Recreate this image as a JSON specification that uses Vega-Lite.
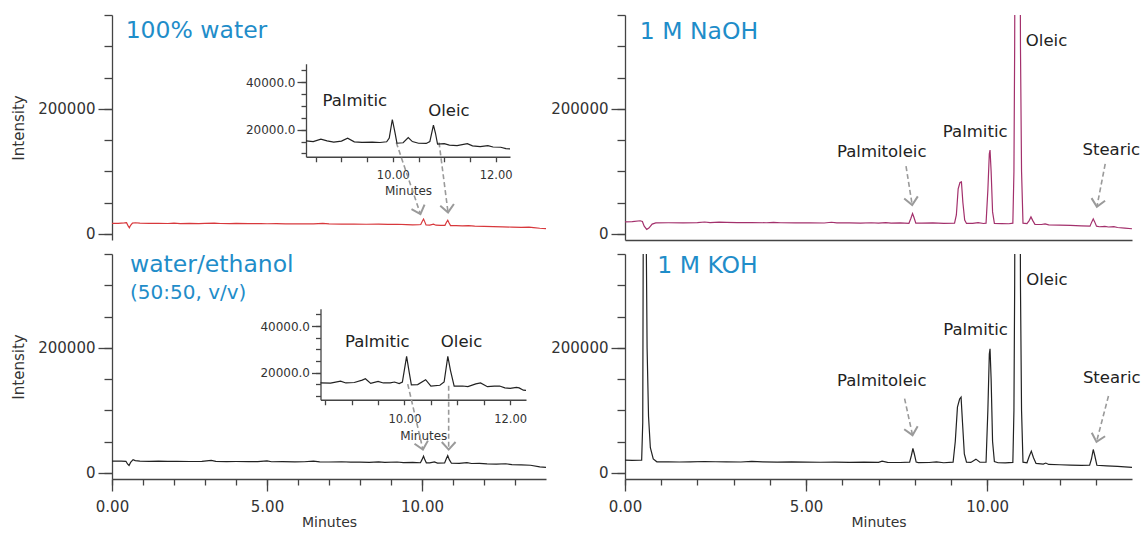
{
 "$schema": "https://vega.github.io/schema/vega-lite/v6.json",
 "background": "white",
 "padding": {"left": 11, "top": 14, "right": 0, "bottom": 0},
 "config": {
  "view": {"stroke": null},
  "font": "DejaVu Sans",
  "axis": {"grid": false, "labelFont": "DejaVu Sans", "titleFont": "DejaVu Sans", "labelColor": "#333333", "titleColor": "#333333", "tickColor": "#444444", "domainColor": "#444444", "tickWidth": 1.3, "domainWidth": 1.3, "labelFontSize": 15, "titleFontSize": 15, "titleFontWeight": "normal", "labelFlush": false, "labelOverlap": false},
  "text": {"font": "DejaVu Sans"}
 },
 "datasets": {
  "water": [
   {"t":0,"v":16500},{"t":0.2,"v":16700},{"t":0.4,"v":17300},{"t":0.47,"v":17800},{"t":0.52,"v":12500},{"t":0.56,"v":9500},{"t":0.6,"v":13500},{"t":0.66,"v":17000},{"t":0.75,"v":17600},{"t":0.9,"v":16900},{"t":1.2,"v":16500},{"t":1.5,"v":16800},{"t":1.8,"v":16400},{"t":2.0,"v":16900},{"t":2.2,"v":16300},{"t":2.5,"v":16600},{"t":2.8,"v":16300},{"t":3.0,"v":16500},{"t":3.3,"v":17100},{"t":3.5,"v":16400},{"t":3.8,"v":16300},{"t":4.0,"v":16500},{"t":4.4,"v":16100},{"t":4.8,"v":16300},{"t":5.0,"v":16000},{"t":5.3,"v":16200},{"t":5.6,"v":15800},{"t":5.9,"v":16000},{"t":6.2,"v":15700},{"t":6.5,"v":15900},{"t":6.8,"v":16500},{"t":7.0,"v":15700},{"t":7.4,"v":15500},{"t":7.8,"v":15600},{"t":8.2,"v":15200},{"t":8.6,"v":15400},{"t":8.9,"v":14900},{"t":9.2,"v":15200},{"t":9.5,"v":14600},{"t":9.7,"v":14300},{"t":9.9,"v":14400},{"t":9.96,"v":14800},{"t":10.01,"v":20000},{"t":10.05,"v":23500},{"t":10.09,"v":19000},{"t":10.13,"v":14000},{"t":10.25,"v":13800},{"t":10.37,"v":15400},{"t":10.45,"v":13700},{"t":10.6,"v":13400},{"t":10.74,"v":13500},{"t":10.79,"v":18500},{"t":10.83,"v":21500},{"t":10.87,"v":17500},{"t":10.92,"v":13100},{"t":11.1,"v":13000},{"t":11.3,"v":12600},{"t":11.5,"v":13000},{"t":11.7,"v":12100},{"t":12.0,"v":11800},{"t":12.3,"v":11500},{"t":12.6,"v":11100},{"t":12.9,"v":10600},{"t":13.2,"v":10200},{"t":13.45,"v":10700},{"t":13.6,"v":9800},{"t":13.8,"v":8800},{"t":14.0,"v":8200}
  ],
  "ethanol": [
   {"t":0,"v":18600},{"t":0.3,"v":18500},{"t":0.45,"v":18300},{"t":0.5,"v":14000},{"t":0.55,"v":11500},{"t":0.6,"v":16500},{"t":0.68,"v":21000},{"t":0.75,"v":19500},{"t":0.9,"v":18700},{"t":1.2,"v":18300},{"t":1.5,"v":18500},{"t":1.8,"v":18100},{"t":2.1,"v":18300},{"t":2.5,"v":18000},{"t":2.9,"v":18200},{"t":3.2,"v":19800},{"t":3.35,"v":18100},{"t":3.7,"v":17900},{"t":4.0,"v":18000},{"t":4.4,"v":17700},{"t":4.7,"v":17900},{"t":5.0,"v":19000},{"t":5.15,"v":17600},{"t":5.5,"v":17700},{"t":5.9,"v":17400},{"t":6.2,"v":17600},{"t":6.5,"v":18600},{"t":6.7,"v":17300},{"t":7.0,"v":17200},{"t":7.4,"v":17600},{"t":7.7,"v":17000},{"t":8.0,"v":17100},{"t":8.3,"v":16700},{"t":8.6,"v":17300},{"t":8.8,"v":16500},{"t":9.2,"v":17200},{"t":9.4,"v":16300},{"t":9.7,"v":16600},{"t":9.95,"v":16000},{"t":10.0,"v":21000},{"t":10.05,"v":26500},{"t":10.09,"v":21000},{"t":10.14,"v":15800},{"t":10.25,"v":15900},{"t":10.4,"v":17300},{"t":10.5,"v":15500},{"t":10.73,"v":15700},{"t":10.78,"v":22000},{"t":10.83,"v":27600},{"t":10.88,"v":21000},{"t":10.95,"v":15300},{"t":11.2,"v":15000},{"t":11.45,"v":16200},{"t":11.6,"v":14800},{"t":11.85,"v":14900},{"t":12.1,"v":14200},{"t":12.4,"v":13800},{"t":12.7,"v":14400},{"t":12.9,"v":13000},{"t":13.2,"v":12500},{"t":13.5,"v":12000},{"t":13.8,"v":9500},{"t":14.0,"v":8500}
  ],
  "naoh": [
   {"t":0,"v":19000},{"t":0.2,"v":19300},{"t":0.42,"v":20800},{"t":0.48,"v":19500},{"t":0.53,"v":12000},{"t":0.6,"v":7000},{"t":0.66,"v":9000},{"t":0.75,"v":15500},{"t":0.85,"v":17300},{"t":1.2,"v":17600},{"t":1.6,"v":17500},{"t":2.0,"v":17800},{"t":2.2,"v":18800},{"t":2.35,"v":17900},{"t":2.6,"v":18500},{"t":2.8,"v":18300},{"t":3.1,"v":17900},{"t":3.5,"v":17800},{"t":3.9,"v":17600},{"t":4.1,"v":18300},{"t":4.3,"v":17600},{"t":4.7,"v":17500},{"t":5.1,"v":17300},{"t":5.5,"v":17200},{"t":5.7,"v":18400},{"t":5.85,"v":17300},{"t":6.2,"v":17300},{"t":6.5,"v":17100},{"t":6.8,"v":17600},{"t":7.0,"v":17000},{"t":7.2,"v":17900},{"t":7.35,"v":16900},{"t":7.6,"v":17400},{"t":7.84,"v":16700},{"t":7.89,"v":24000},{"t":7.94,"v":32300},{"t":7.98,"v":26000},{"t":8.03,"v":17000},{"t":8.2,"v":16900},{"t":8.5,"v":17400},{"t":8.8,"v":16600},{"t":9.1,"v":16800},{"t":9.15,"v":30000},{"t":9.2,"v":72000},{"t":9.25,"v":82000},{"t":9.29,"v":83000},{"t":9.33,"v":50000},{"t":9.38,"v":22000},{"t":9.43,"v":16500},{"t":9.6,"v":16700},{"t":9.75,"v":17800},{"t":9.9,"v":16400},{"t":9.97,"v":17000},{"t":10.02,"v":70000},{"t":10.06,"v":128000},{"t":10.08,"v":134000},{"t":10.11,"v":100000},{"t":10.15,"v":35000},{"t":10.2,"v":16500},{"t":10.4,"v":16300},{"t":10.6,"v":16000},{"t":10.71,"v":17000},{"t":10.74,"v":100000},{"t":10.76,"v":300000},{"t":10.78,"v":700000},{"t":10.84,"v":1100000},{"t":10.9,"v":700000},{"t":10.92,"v":300000},{"t":10.95,"v":100000},{"t":10.99,"v":17000},{"t":11.1,"v":16200},{"t":11.16,"v":21000},{"t":11.21,"v":27000},{"t":11.26,"v":21000},{"t":11.32,"v":15000},{"t":11.5,"v":14800},{"t":11.6,"v":15800},{"t":11.7,"v":14300},{"t":12.0,"v":13800},{"t":12.3,"v":13300},{"t":12.6,"v":12600},{"t":12.84,"v":12200},{"t":12.89,"v":19000},{"t":12.93,"v":23900},{"t":12.97,"v":19000},{"t":13.02,"v":12200},{"t":13.1,"v":11200},{"t":13.25,"v":11800},{"t":13.35,"v":10800},{"t":13.5,"v":11300},{"t":13.6,"v":10000},{"t":13.8,"v":9000},{"t":14.0,"v":8000}
  ],
  "koh": [
   {"t":0,"v":20200},{"t":0.2,"v":19800},{"t":0.4,"v":20000},{"t":0.46,"v":20000},{"t":0.49,"v":80000},{"t":0.5,"v":300000},{"t":0.52,"v":700000},{"t":0.56,"v":900000},{"t":0.59,"v":350000},{"t":0.61,"v":200000},{"t":0.65,"v":90000},{"t":0.7,"v":40000},{"t":0.78,"v":22000},{"t":0.88,"v":17500},{"t":1.2,"v":17300},{"t":1.5,"v":17200},{"t":1.8,"v":17400},{"t":2.2,"v":18000},{"t":2.5,"v":17600},{"t":2.8,"v":17300},{"t":3.2,"v":17200},{"t":3.5,"v":18200},{"t":3.8,"v":17500},{"t":4.2,"v":17000},{"t":4.6,"v":17500},{"t":5.0,"v":16900},{"t":5.4,"v":16800},{"t":5.8,"v":17100},{"t":6.2,"v":16600},{"t":6.6,"v":16900},{"t":7.0,"v":16500},{"t":7.1,"v":18500},{"t":7.25,"v":16700},{"t":7.6,"v":16400},{"t":7.86,"v":17000},{"t":7.91,"v":28000},{"t":7.95,"v":38800},{"t":7.99,"v":30000},{"t":8.04,"v":17000},{"t":8.1,"v":16200},{"t":8.4,"v":16400},{"t":8.6,"v":17300},{"t":8.8,"v":16000},{"t":9.06,"v":17000},{"t":9.12,"v":50000},{"t":9.18,"v":105000},{"t":9.24,"v":118000},{"t":9.28,"v":121000},{"t":9.32,"v":80000},{"t":9.37,"v":30000},{"t":9.43,"v":17000},{"t":9.55,"v":16500},{"t":9.69,"v":21800},{"t":9.8,"v":16800},{"t":9.97,"v":17000},{"t":10.02,"v":100000},{"t":10.06,"v":190000},{"t":10.08,"v":198400},{"t":10.11,"v":150000},{"t":10.15,"v":50000},{"t":10.2,"v":18000},{"t":10.3,"v":16000},{"t":10.5,"v":15800},{"t":10.71,"v":16500},{"t":10.74,"v":100000},{"t":10.76,"v":300000},{"t":10.78,"v":700000},{"t":10.84,"v":1100000},{"t":10.9,"v":700000},{"t":10.92,"v":300000},{"t":10.95,"v":100000},{"t":10.99,"v":17000},{"t":11.1,"v":16000},{"t":11.16,"v":26000},{"t":11.22,"v":34600},{"t":11.28,"v":24000},{"t":11.35,"v":15000},{"t":11.55,"v":13800},{"t":11.62,"v":15500},{"t":11.7,"v":13300},{"t":12.0,"v":12800},{"t":12.3,"v":12300},{"t":12.6,"v":11800},{"t":12.83,"v":12000},{"t":12.88,"v":22000},{"t":12.93,"v":37200},{"t":12.97,"v":28000},{"t":13.03,"v":12000},{"t":13.3,"v":11000},{"t":13.6,"v":10200},{"t":13.8,"v":9500},{"t":14.0,"v":8500}
  ],
  "inset_water": [
   {"t":8.31,"v":15300},{"t":8.45,"v":15000},{"t":8.6,"v":16000},{"t":8.72,"v":15300},{"t":8.85,"v":14800},{"t":9.0,"v":15200},{"t":9.12,"v":16400},{"t":9.25,"v":14900},{"t":9.4,"v":14700},{"t":9.6,"v":14800},{"t":9.75,"v":14600},{"t":9.88,"v":14900},{"t":9.93,"v":16500},{"t":9.99,"v":24300},{"t":10.04,"v":19000},{"t":10.08,"v":14300},{"t":10.2,"v":14500},{"t":10.3,"v":16700},{"t":10.38,"v":15000},{"t":10.5,"v":14300},{"t":10.65,"v":14200},{"t":10.72,"v":15000},{"t":10.79,"v":21900},{"t":10.83,"v":18500},{"t":10.87,"v":13900},{"t":11.0,"v":14100},{"t":11.1,"v":13500},{"t":11.25,"v":13300},{"t":11.45,"v":14100},{"t":11.55,"v":13200},{"t":11.7,"v":12900},{"t":11.85,"v":13300},{"t":11.95,"v":12700},{"t":12.1,"v":12600},{"t":12.2,"v":12000},{"t":12.28,"v":11900}
  ],
  "inset_ethanol": [
   {"t":8.41,"v":15600},{"t":8.6,"v":15500},{"t":8.79,"v":16400},{"t":8.89,"v":15600},{"t":9.05,"v":15800},{"t":9.2,"v":16800},{"t":9.26,"v":17400},{"t":9.36,"v":15400},{"t":9.5,"v":16300},{"t":9.6,"v":15600},{"t":9.73,"v":15600},{"t":9.81,"v":16000},{"t":9.9,"v":15300},{"t":9.96,"v":16000},{"t":10.04,"v":27000},{"t":10.09,"v":20000},{"t":10.13,"v":14800},{"t":10.25,"v":14900},{"t":10.4,"v":17000},{"t":10.5,"v":14200},{"t":10.67,"v":14600},{"t":10.75,"v":16000},{"t":10.82,"v":27000},{"t":10.87,"v":21000},{"t":10.94,"v":14200},{"t":11.1,"v":14300},{"t":11.2,"v":14000},{"t":11.35,"v":15200},{"t":11.44,"v":15600},{"t":11.57,"v":14000},{"t":11.7,"v":14200},{"t":11.8,"v":14300},{"t":11.9,"v":13500},{"t":12.0,"v":13300},{"t":12.12,"v":13700},{"t":12.17,"v":13500},{"t":12.25,"v":12500},{"t":12.3,"v":12400}
  ],
  "arrows_tl": [{"peak":"Palmitic","t":9.17,"v":146000,"t2":9.95,"v2":31500},{"peak":"Oleic","t":10.55,"v":146000,"t2":10.84,"v2":34100}],
  "arrows_bl": [{"peak":"Palmitic","t":9.54,"v":141900,"t2":10.03,"v2":37100},{"peak":"Oleic","t":10.86,"v":139200,"t2":10.86,"v2":37100}],
  "arrows_tr": [{"peak":"Palmitoleic","t":7.76,"v":108200,"t2":7.93,"v2":46100},{"peak":"Stearic","t":13.26,"v":111800,"t2":13.03,"v2":43000}],
  "arrows_br": [{"peak":"Palmitoleic","t":7.72,"v":118700,"t2":7.94,"v2":60100},{"peak":"Stearic","t":13.35,"v":122800,"t2":13.02,"v2":49400}],
  "labels_tr": [{"label":"Palmitoleic","t":7.09,"v":122500},{"label":"Palmitic","t":9.67,"v":154300},{"label":"Oleic","t":11.64,"v":301000},{"label":"Stearic","t":13.43,"v":126200}],
  "labels_br": [{"label":"Palmitoleic","t":7.09,"v":138800},{"label":"Palmitic","t":9.68,"v":221200},{"label":"Oleic","t":11.65,"v":301000},{"label":"Stearic","t":13.44,"v":143500}],
  "inset_labels_tl": [{"label":"Palmitic","t":9.26,"v":30000},{"label":"Oleic","t":11.09,"v":25700}],
  "inset_labels_bl": [{"label":"Palmitic","t":9.485,"v":31200},{"label":"Oleic","t":11.08,"v":31200}]
 },
 "columns": 2,
 "spacing": {"row": 14, "column": 79},
 "bounds": "flush",
 "concat": [
  {
   "width": 434, "height": 225,
   "resolve": {"scale": {"x": "independent", "y": "independent"}, "axis": {"x": "independent", "y": "independent"}},
   "layer": [
    {"data": {"name": "water"}, "mark": {"type": "line", "color": "#d8383c", "strokeWidth": 1.2, "clip": true},
     "encoding": {
      "x": {"field": "t", "type": "quantitative", "scale": {"domain": [0, 14], "nice": false, "zero": false}, "axis": null},
      "y": {"field": "v", "type": "quantitative", "scale": {"domain": [-10000, 350000], "nice": false, "zero": false}, "axis": {"orient": "left", "values": [0, 200000], "format": "d", "tickSize": 14, "labelPadding": 3, "title": "Intensity", "titlePadding": 11}}}},
    {"data": {"values": [{"label": "100% water", "t": 0.44, "v": 313600}]}, "mark": {"type": "text", "align": "left", "baseline": "alphabetic", "fontSize": 23.5, "color": "#1f8dc9"},
     "encoding": {
      "x": {"field": "t", "type": "quantitative", "scale": {"domain": [0, 14], "nice": false, "zero": false}, "axis": null},
      "y": {"field": "v", "type": "quantitative", "scale": {"domain": [-10000, 350000], "nice": false, "zero": false}, "axis": {"orient": "left", "values": [0, 50000, 100000, 150000, 200000, 250000, 300000, 350000], "tickSize": 8, "labels": false, "domain": false, "title": null}},
      "text": {"field": "label"}}},
    {"data": {"name": "arrows_tl"}, "mark": {"type": "rule", "color": "#9a9a9a", "strokeWidth": 1.6, "strokeDash": [5, 3]},
     "encoding": {
      "x": {"field": "t", "type": "quantitative", "scale": {"domain": [0, 14], "nice": false, "zero": false}, "axis": null},
      "y": {"field": "v", "type": "quantitative", "scale": {"domain": [-10000, 350000], "nice": false, "zero": false}, "axis": null},
      "x2": {"field": "t2"}, "y2": {"field": "v2"}}},
    {"data": {"name": "arrows_tl"}, "transform": [{"filter": "datum.peak == 'Palmitic'"}], "mark": {"type": "point", "shape": "M-1,-1.1L0,0L1,-1.1", "filled": false, "color": "#9a9a9a", "strokeWidth": 2, "size": 190, "angle": -18.7, "opacity": 1},
     "encoding": {
      "x": {"field": "t2", "type": "quantitative", "scale": {"domain": [0, 14], "nice": false, "zero": false}, "axis": null},
      "y": {"field": "v2", "type": "quantitative", "scale": {"domain": [-10000, 350000], "nice": false, "zero": false}, "axis": null}}},
    {"data": {"name": "arrows_tl"}, "transform": [{"filter": "datum.peak == 'Oleic'"}], "mark": {"type": "point", "shape": "M-1,-1.1L0,0L1,-1.1", "filled": false, "color": "#9a9a9a", "strokeWidth": 2, "size": 190, "angle": -7.3, "opacity": 1},
     "encoding": {
      "x": {"field": "t2", "type": "quantitative", "scale": {"domain": [0, 14], "nice": false, "zero": false}, "axis": null},
      "y": {"field": "v2", "type": "quantitative", "scale": {"domain": [-10000, 350000], "nice": false, "zero": false}, "axis": null}}},
    {"data": {"name": "inset_water"}, "mark": {"type": "line", "color": "#222222", "strokeWidth": 1.2},
     "encoding": {
      "x": {"field": "t", "type": "quantitative", "scale": {"domain": [8.31, 12.28], "range": [194, 398], "nice": false, "zero": false},
            "axis": {"orient": "bottom", "offset": -83.25, "values": [8.5, 9, 9.5, 10, 10.5, 11, 11.5, 12], "labelExpr": "datum.value == 10 || datum.value == 12 ? format(datum.value, '.2f') : ''", "tickSize": 5, "labelFontSize": 11.5, "labelPadding": 8, "title": "Minutes", "titleFontSize": 12, "titlePadding": 4}},
      "y": {"field": "v", "type": "quantitative", "scale": {"domain": [8600, 47800], "range": [141.75, 48.75], "nice": false, "zero": false},
            "axis": {"orient": "left", "offset": -194, "values": [20000, 40000], "format": ".1f", "tickSize": 9, "labelFontSize": 12, "labelPadding": 2, "title": null}}}},
    {"data": {"name": "inset_labels_tl"}, "mark": {"type": "text", "align": "center", "baseline": "alphabetic", "fontSize": 16.5, "color": "#222222"},
     "encoding": {
      "x": {"field": "t", "type": "quantitative", "scale": {"domain": [8.31, 12.28], "range": [194, 398], "nice": false, "zero": false}, "axis": null},
      "y": {"field": "v", "type": "quantitative", "scale": {"domain": [8600, 47800], "range": [141.75, 48.75], "nice": false, "zero": false},
            "axis": {"orient": "left", "offset": -194, "values": [10000, 15000, 20000, 25000, 30000, 35000, 40000, 45000], "tickSize": 5, "labels": false, "domain": false, "title": null}},
      "text": {"field": "label"}}}
   ]
  },
  {
   "width": 507, "height": 225,
   "resolve": {"scale": {"x": "independent", "y": "independent"}, "axis": {"x": "independent", "y": "independent"}},
   "layer": [
    {"data": {"name": "naoh"}, "mark": {"type": "line", "color": "#a3306c", "strokeWidth": 1.2, "clip": true},
     "encoding": {
      "x": {"field": "t", "type": "quantitative", "scale": {"domain": [0, 14], "nice": false, "zero": false}, "axis": {"orient": "bottom", "ticks": false, "labels": false, "title": null}},
      "y": {"field": "v", "type": "quantitative", "scale": {"domain": [-10000, 350000], "nice": false, "zero": false}, "axis": {"orient": "left", "values": [0, 200000], "format": "d", "tickSize": 14, "labelPadding": 3, "title": null}}}},
    {"data": {"values": [{"label": "1 M NaOH", "t": 0.41, "v": 312000}]}, "mark": {"type": "text", "align": "left", "baseline": "alphabetic", "fontSize": 23.5, "color": "#1f8dc9"},
     "encoding": {
      "x": {"field": "t", "type": "quantitative", "scale": {"domain": [0, 14], "nice": false, "zero": false}, "axis": null},
      "y": {"field": "v", "type": "quantitative", "scale": {"domain": [-10000, 350000], "nice": false, "zero": false}, "axis": {"orient": "left", "values": [0, 50000, 100000, 150000, 200000, 250000, 300000, 350000], "tickSize": 8, "labels": false, "domain": false, "title": null}},
      "text": {"field": "label"}}},
    {"data": {"name": "labels_tr"}, "mark": {"type": "text", "align": "center", "baseline": "alphabetic", "fontSize": 16.5, "color": "#222222"},
     "encoding": {
      "x": {"field": "t", "type": "quantitative", "scale": {"domain": [0, 14], "nice": false, "zero": false}, "axis": null},
      "y": {"field": "v", "type": "quantitative", "scale": {"domain": [-10000, 350000], "nice": false, "zero": false}, "axis": null},
      "text": {"field": "label"}}},
    {"data": {"name": "arrows_tr"}, "mark": {"type": "rule", "color": "#9a9a9a", "strokeWidth": 1.6, "strokeDash": [5, 3]},
     "encoding": {
      "x": {"field": "t", "type": "quantitative", "scale": {"domain": [0, 14], "nice": false, "zero": false}, "axis": null},
      "y": {"field": "v", "type": "quantitative", "scale": {"domain": [-10000, 350000], "nice": false, "zero": false}, "axis": null},
      "x2": {"field": "t2"}, "y2": {"field": "v2"}}},
    {"data": {"name": "arrows_tr"}, "transform": [{"filter": "datum.peak == 'Palmitoleic'"}], "mark": {"type": "point", "shape": "M-1,-1.1L0,0L1,-1.1", "filled": false, "color": "#9a9a9a", "strokeWidth": 2, "size": 190, "angle": -9, "opacity": 1},
     "encoding": {
      "x": {"field": "t2", "type": "quantitative", "scale": {"domain": [0, 14], "nice": false, "zero": false}, "axis": null},
      "y": {"field": "v2", "type": "quantitative", "scale": {"domain": [-10000, 350000], "nice": false, "zero": false}, "axis": null}}},
    {"data": {"name": "arrows_tr"}, "transform": [{"filter": "datum.peak == 'Stearic'"}], "mark": {"type": "point", "shape": "M-1,-1.1L0,0L1,-1.1", "filled": false, "color": "#9a9a9a", "strokeWidth": 2, "size": 190, "angle": 10.9, "opacity": 1},
     "encoding": {
      "x": {"field": "t2", "type": "quantitative", "scale": {"domain": [0, 14], "nice": false, "zero": false}, "axis": null},
      "y": {"field": "v2", "type": "quantitative", "scale": {"domain": [-10000, 350000], "nice": false, "zero": false}, "axis": null}}}
   ]
  },
  {
   "width": 434, "height": 225,
   "resolve": {"scale": {"x": "independent", "y": "independent"}, "axis": {"x": "independent", "y": "independent"}},
   "layer": [
    {"data": {"name": "ethanol"}, "mark": {"type": "line", "color": "#222222", "strokeWidth": 1.2, "clip": true},
     "encoding": {
      "x": {"field": "t", "type": "quantitative", "scale": {"domain": [0, 14], "nice": false, "zero": false}, "axis": {"orient": "bottom", "values": [0, 5, 10], "format": ".2f", "tickSize": 12, "labelPadding": 8, "title": "Minutes", "titleFontSize": 14, "titlePadding": 1}},
      "y": {"field": "v", "type": "quantitative", "scale": {"domain": [-10000, 350000], "nice": false, "zero": false}, "axis": {"orient": "left", "values": [0, 200000], "format": "d", "tickSize": 14, "labelPadding": 3, "title": "Intensity", "titlePadding": 11}}}},
    {"data": {"values": [{"label": "water/ethanol", "t": 0.58, "v": 320500}]}, "mark": {"type": "text", "align": "left", "baseline": "alphabetic", "fontSize": 23.5, "color": "#1f8dc9"},
     "encoding": {
      "x": {"field": "t", "type": "quantitative", "scale": {"domain": [0, 14], "nice": false, "zero": false}, "axis": {"orient": "bottom", "values": [0, 1, 2, 3, 4, 5, 6, 7, 8, 9, 10, 11, 12, 13], "tickSize": 6, "labels": false, "domain": false, "title": null}},
      "y": {"field": "v", "type": "quantitative", "scale": {"domain": [-10000, 350000], "nice": false, "zero": false}, "axis": {"orient": "left", "values": [0, 50000, 100000, 150000, 200000, 250000, 300000, 350000], "tickSize": 8, "labels": false, "domain": false, "title": null}},
      "text": {"field": "label"}}},
    {"data": {"values": [{"label": "(50:50, v/v)", "t": 0.58, "v": 278400}]}, "mark": {"type": "text", "align": "left", "baseline": "alphabetic", "fontSize": 20, "color": "#1f8dc9"},
     "encoding": {
      "x": {"field": "t", "type": "quantitative", "scale": {"domain": [0, 14], "nice": false, "zero": false}, "axis": null},
      "y": {"field": "v", "type": "quantitative", "scale": {"domain": [-10000, 350000], "nice": false, "zero": false}, "axis": null},
      "text": {"field": "label"}}},
    {"data": {"name": "arrows_bl"}, "mark": {"type": "rule", "color": "#9a9a9a", "strokeWidth": 1.6, "strokeDash": [5, 3]},
     "encoding": {
      "x": {"field": "t", "type": "quantitative", "scale": {"domain": [0, 14], "nice": false, "zero": false}, "axis": null},
      "y": {"field": "v", "type": "quantitative", "scale": {"domain": [-10000, 350000], "nice": false, "zero": false}, "axis": null},
      "x2": {"field": "t2"}, "y2": {"field": "v2"}}},
    {"data": {"name": "arrows_bl"}, "transform": [{"filter": "datum.peak == 'Palmitic'"}], "mark": {"type": "point", "shape": "M-1,-1.1L0,0L1,-1.1", "filled": false, "color": "#9a9a9a", "strokeWidth": 2, "size": 190, "angle": -13, "opacity": 1},
     "encoding": {
      "x": {"field": "t2", "type": "quantitative", "scale": {"domain": [0, 14], "nice": false, "zero": false}, "axis": null},
      "y": {"field": "v2", "type": "quantitative", "scale": {"domain": [-10000, 350000], "nice": false, "zero": false}, "axis": null}}},
    {"data": {"name": "arrows_bl"}, "transform": [{"filter": "datum.peak == 'Oleic'"}], "mark": {"type": "point", "shape": "M-1,-1.1L0,0L1,-1.1", "filled": false, "color": "#9a9a9a", "strokeWidth": 2, "size": 190, "angle": 0, "opacity": 1},
     "encoding": {
      "x": {"field": "t2", "type": "quantitative", "scale": {"domain": [0, 14], "nice": false, "zero": false}, "axis": null},
      "y": {"field": "v2", "type": "quantitative", "scale": {"domain": [-10000, 350000], "nice": false, "zero": false}, "axis": null}}},
    {"data": {"name": "inset_ethanol"}, "mark": {"type": "line", "color": "#222222", "strokeWidth": 1.2},
     "encoding": {
      "x": {"field": "t", "type": "quantitative", "scale": {"domain": [8.41, 12.3], "range": [208.5, 414], "nice": false, "zero": false},
            "axis": {"orient": "bottom", "offset": -79.25, "values": [8.5, 9, 9.5, 10, 10.5, 11, 11.5, 12], "labelExpr": "datum.value == 10 || datum.value == 12 ? format(datum.value, '.2f') : ''", "tickSize": 5, "labelFontSize": 11.5, "labelPadding": 9, "title": "Minutes", "titleFontSize": 12, "titlePadding": 5}},
      "y": {"field": "v", "type": "quantitative", "scale": {"domain": [8400, 47400], "range": [145.75, 54.75], "nice": false, "zero": false},
            "axis": {"orient": "left", "offset": -208.5, "values": [20000, 40000], "format": ".1f", "tickSize": 9, "labelFontSize": 12, "labelPadding": 2, "title": null}}}},
    {"data": {"name": "inset_labels_bl"}, "mark": {"type": "text", "align": "center", "baseline": "alphabetic", "fontSize": 16.5, "color": "#222222"},
     "encoding": {
      "x": {"field": "t", "type": "quantitative", "scale": {"domain": [8.41, 12.3], "range": [208.5, 414], "nice": false, "zero": false}, "axis": null},
      "y": {"field": "v", "type": "quantitative", "scale": {"domain": [8400, 47400], "range": [145.75, 54.75], "nice": false, "zero": false},
            "axis": {"orient": "left", "offset": -208.5, "values": [10000, 15000, 20000, 25000, 30000, 35000, 40000, 45000], "tickSize": 5, "labels": false, "domain": false, "title": null}},
      "text": {"field": "label"}}}
   ]
  },
  {
   "width": 507, "height": 225,
   "resolve": {"scale": {"x": "independent", "y": "independent"}, "axis": {"x": "independent", "y": "independent"}},
   "layer": [
    {"data": {"name": "koh"}, "mark": {"type": "line", "color": "#222222", "strokeWidth": 1.2, "clip": true},
     "encoding": {
      "x": {"field": "t", "type": "quantitative", "scale": {"domain": [0, 14], "nice": false, "zero": false}, "axis": {"orient": "bottom", "values": [0, 5, 10], "format": ".2f", "tickSize": 12, "labelPadding": 8, "title": "Minutes", "titleFontSize": 14, "titlePadding": 1}},
      "y": {"field": "v", "type": "quantitative", "scale": {"domain": [-10000, 350000], "nice": false, "zero": false}, "axis": {"orient": "left", "values": [0, 200000], "format": "d", "tickSize": 14, "labelPadding": 3, "title": null}}}},
    {"data": {"values": [{"label": "1 M KOH", "t": 0.89, "v": 319000}]}, "mark": {"type": "text", "align": "left", "baseline": "alphabetic", "fontSize": 23.5, "color": "#1f8dc9"},
     "encoding": {
      "x": {"field": "t", "type": "quantitative", "scale": {"domain": [0, 14], "nice": false, "zero": false}, "axis": {"orient": "bottom", "values": [0, 1, 2, 3, 4, 5, 6, 7, 8, 9, 10, 11, 12, 13], "tickSize": 6, "labels": false, "domain": false, "title": null}},
      "y": {"field": "v", "type": "quantitative", "scale": {"domain": [-10000, 350000], "nice": false, "zero": false}, "axis": {"orient": "left", "values": [0, 50000, 100000, 150000, 200000, 250000, 300000, 350000], "tickSize": 8, "labels": false, "domain": false, "title": null}},
      "text": {"field": "label"}}},
    {"data": {"name": "labels_br"}, "mark": {"type": "text", "align": "center", "baseline": "alphabetic", "fontSize": 16.5, "color": "#222222"},
     "encoding": {
      "x": {"field": "t", "type": "quantitative", "scale": {"domain": [0, 14], "nice": false, "zero": false}, "axis": null},
      "y": {"field": "v", "type": "quantitative", "scale": {"domain": [-10000, 350000], "nice": false, "zero": false}, "axis": null},
      "text": {"field": "label"}}},
    {"data": {"name": "arrows_br"}, "mark": {"type": "rule", "color": "#9a9a9a", "strokeWidth": 1.6, "strokeDash": [5, 3]},
     "encoding": {
      "x": {"field": "t", "type": "quantitative", "scale": {"domain": [0, 14], "nice": false, "zero": false}, "axis": null},
      "y": {"field": "v", "type": "quantitative", "scale": {"domain": [-10000, 350000], "nice": false, "zero": false}, "axis": null},
      "x2": {"field": "t2"}, "y2": {"field": "v2"}}},
    {"data": {"name": "arrows_br"}, "transform": [{"filter": "datum.peak == 'Palmitoleic'"}], "mark": {"type": "point", "shape": "M-1,-1.1L0,0L1,-1.1", "filled": false, "color": "#9a9a9a", "strokeWidth": 2, "size": 190, "angle": -12.3, "opacity": 1},
     "encoding": {
      "x": {"field": "t2", "type": "quantitative", "scale": {"domain": [0, 14], "nice": false, "zero": false}, "axis": null},
      "y": {"field": "v2", "type": "quantitative", "scale": {"domain": [-10000, 350000], "nice": false, "zero": false}, "axis": null}}},
    {"data": {"name": "arrows_br"}, "transform": [{"filter": "datum.peak == 'Stearic'"}], "mark": {"type": "point", "shape": "M-1,-1.1L0,0L1,-1.1", "filled": false, "color": "#9a9a9a", "strokeWidth": 2, "size": 190, "angle": 14.6, "opacity": 1},
     "encoding": {
      "x": {"field": "t2", "type": "quantitative", "scale": {"domain": [0, 14], "nice": false, "zero": false}, "axis": null},
      "y": {"field": "v2", "type": "quantitative", "scale": {"domain": [-10000, 350000], "nice": false, "zero": false}, "axis": null}}}
   ]
  }
 ]
}
